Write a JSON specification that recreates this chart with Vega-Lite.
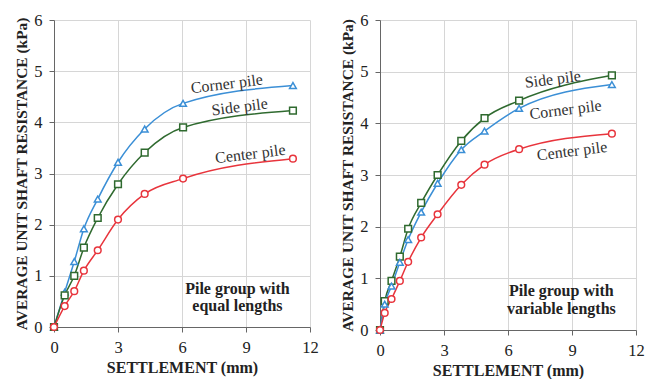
{
  "$schema": "https://vega.github.io/schema/vega-lite/v6.json",
  "background": "white",
  "padding": {"left": 14, "top": 12, "right": 8, "bottom": 2},
  "spacing": 21,
  "config": {
    "view": {"stroke": null},
    "axis": {
      "labelFont": "Liberation Serif",
      "labelFontSize": 16.5,
      "labelColor": "#222",
      "labelPadding": 7,
      "titleFont": "Liberation Serif",
      "titleFontSize": 16,
      "titleFontWeight": "bold",
      "titleColor": "#222",
      "gridColor": "#d6d6d6",
      "domainColor": "#666",
      "tickColor": "#666",
      "tickSize": 5,
      "labelFlush": false
    },
    "axisY": {"titleFontSize": 15.4, "titlePadding": 4},
    "axisX": {"titlePadding": 4, "labelPadding": 7}
  },
  "datasets": {
    "curves": [
      {"panel": "equal", "pile": "Corner", "s": 0, "r": 0},
      {"panel": "equal", "pile": "Corner", "s": 0.5, "r": 0.68},
      {"panel": "equal", "pile": "Corner", "s": 0.95, "r": 1.28},
      {"panel": "equal", "pile": "Corner", "s": 1.4, "r": 1.92},
      {"panel": "equal", "pile": "Corner", "s": 2.05, "r": 2.5},
      {"panel": "equal", "pile": "Corner", "s": 3.0, "r": 3.22},
      {"panel": "equal", "pile": "Corner", "s": 4.25, "r": 3.87},
      {"panel": "equal", "pile": "Corner", "s": 6.05, "r": 4.37},
      {"panel": "equal", "pile": "Corner", "s": 11.2, "r": 4.72},
      {"panel": "equal", "pile": "Side", "s": 0, "r": 0},
      {"panel": "equal", "pile": "Side", "s": 0.5, "r": 0.62},
      {"panel": "equal", "pile": "Side", "s": 0.95, "r": 1.0},
      {"panel": "equal", "pile": "Side", "s": 1.4, "r": 1.55},
      {"panel": "equal", "pile": "Side", "s": 2.05, "r": 2.13},
      {"panel": "equal", "pile": "Side", "s": 3.0, "r": 2.79},
      {"panel": "equal", "pile": "Side", "s": 4.25, "r": 3.41},
      {"panel": "equal", "pile": "Side", "s": 6.05, "r": 3.9},
      {"panel": "equal", "pile": "Side", "s": 11.2, "r": 4.23},
      {"panel": "equal", "pile": "Center", "s": 0, "r": 0},
      {"panel": "equal", "pile": "Center", "s": 0.5, "r": 0.41},
      {"panel": "equal", "pile": "Center", "s": 0.95, "r": 0.7},
      {"panel": "equal", "pile": "Center", "s": 1.4, "r": 1.1},
      {"panel": "equal", "pile": "Center", "s": 2.05, "r": 1.5},
      {"panel": "equal", "pile": "Center", "s": 3.0, "r": 2.1},
      {"panel": "equal", "pile": "Center", "s": 4.25, "r": 2.6},
      {"panel": "equal", "pile": "Center", "s": 6.05, "r": 2.9},
      {"panel": "equal", "pile": "Center", "s": 11.2, "r": 3.29},
      {"panel": "variable", "pile": "Side", "s": 0, "r": 0},
      {"panel": "variable", "pile": "Side", "s": 0.22, "r": 0.56},
      {"panel": "variable", "pile": "Side", "s": 0.54, "r": 0.95},
      {"panel": "variable", "pile": "Side", "s": 0.93, "r": 1.42},
      {"panel": "variable", "pile": "Side", "s": 1.32, "r": 1.96},
      {"panel": "variable", "pile": "Side", "s": 1.93, "r": 2.46},
      {"panel": "variable", "pile": "Side", "s": 2.7, "r": 3.0},
      {"panel": "variable", "pile": "Side", "s": 3.81, "r": 3.66},
      {"panel": "variable", "pile": "Side", "s": 4.9, "r": 4.1},
      {"panel": "variable", "pile": "Side", "s": 6.52, "r": 4.44},
      {"panel": "variable", "pile": "Side", "s": 10.87, "r": 4.93},
      {"panel": "variable", "pile": "Corner", "s": 0, "r": 0},
      {"panel": "variable", "pile": "Corner", "s": 0.22, "r": 0.5},
      {"panel": "variable", "pile": "Corner", "s": 0.54, "r": 0.85},
      {"panel": "variable", "pile": "Corner", "s": 0.93, "r": 1.31},
      {"panel": "variable", "pile": "Corner", "s": 1.32, "r": 1.75},
      {"panel": "variable", "pile": "Corner", "s": 1.93, "r": 2.28},
      {"panel": "variable", "pile": "Corner", "s": 2.7, "r": 2.84},
      {"panel": "variable", "pile": "Corner", "s": 3.81, "r": 3.49},
      {"panel": "variable", "pile": "Corner", "s": 4.9, "r": 3.85},
      {"panel": "variable", "pile": "Corner", "s": 6.52, "r": 4.29},
      {"panel": "variable", "pile": "Corner", "s": 10.87, "r": 4.75},
      {"panel": "variable", "pile": "Center", "s": 0, "r": 0},
      {"panel": "variable", "pile": "Center", "s": 0.22, "r": 0.33},
      {"panel": "variable", "pile": "Center", "s": 0.54, "r": 0.6},
      {"panel": "variable", "pile": "Center", "s": 0.93, "r": 0.95},
      {"panel": "variable", "pile": "Center", "s": 1.32, "r": 1.32},
      {"panel": "variable", "pile": "Center", "s": 1.93, "r": 1.79},
      {"panel": "variable", "pile": "Center", "s": 2.7, "r": 2.24},
      {"panel": "variable", "pile": "Center", "s": 3.81, "r": 2.81},
      {"panel": "variable", "pile": "Center", "s": 4.9, "r": 3.2},
      {"panel": "variable", "pile": "Center", "s": 6.52, "r": 3.5},
      {"panel": "variable", "pile": "Center", "s": 10.87, "r": 3.8}
    ],
    "curveLabels": [
      {"panel": "equal", "label": "Corner pile", "s": 8.1, "r": 4.75},
      {"panel": "equal", "label": "Side pile", "s": 8.7, "r": 4.3},
      {"panel": "equal", "label": "Center pile", "s": 9.2, "r": 3.38},
      {"panel": "variable", "label": "Side pile", "s": 8.1, "r": 4.85},
      {"panel": "variable", "label": "Corner pile", "s": 8.7, "r": 4.26},
      {"panel": "variable", "label": "Center pile", "s": 9.0, "r": 3.46}
    ],
    "notes": [
      {"panel": "equal", "label": "Pile group with", "s": 8.6, "r": 0.74},
      {"panel": "equal", "label": "equal lengths", "s": 8.6, "r": 0.41},
      {"panel": "variable", "label": "Pile group with", "s": 8.5, "r": 0.75},
      {"panel": "variable", "label": "variable lengths", "s": 8.5, "r": 0.4}
    ]
  },
  "hconcat": [
    {
      "width": 256,
      "height": 307,
      "encoding": {
        "x": {"field": "s", "type": "quantitative", "scale": {"domain": [0, 12], "nice": false}, "axis": {"values": [0, 3, 6, 9, 12], "title": "SETTLEMENT (mm)"}},
        "y": {"field": "r", "type": "quantitative", "scale": {"domain": [0, 6], "nice": false}, "axis": {"values": [0, 1, 2, 3, 4, 5, 6], "title": "AVERAGE UNIT SHAFT RESISTANCE (kPa)"}}
      },
      "layer": [
        {
          "data": {"name": "curves"},
          "transform": [{"filter": "datum.panel === 'equal'"}],
          "mark": {"type": "line", "interpolate": "monotone", "strokeWidth": 1.5},
          "encoding": {
            "detail": {"field": "pile"},
            "color": {"field": "pile", "type": "nominal", "scale": {"domain": ["Corner", "Side", "Center"], "range": ["#3b8fd6", "#2f6a2f", "#e8343c"]}, "legend": null}
          }
        },
        {
          "data": {"name": "curves"},
          "transform": [{"filter": "datum.panel === 'equal'"}],
          "mark": {"type": "point", "filled": false, "fill": "white", "fillOpacity": 1, "strokeWidth": 1.5, "size": 45, "opacity": 1},
          "encoding": {
            "color": {"field": "pile", "type": "nominal", "scale": {"domain": ["Corner", "Side", "Center"], "range": ["#3b8fd6", "#2f6a2f", "#e8343c"]}, "legend": null},
            "shape": {"field": "pile", "type": "nominal", "scale": {"domain": ["Corner", "Side", "Center"], "range": ["triangle-up", "square", "circle"]}, "legend": null}
          }
        },
        {
          "data": {"name": "curveLabels"},
          "transform": [{"filter": "datum.panel === 'equal'"}],
          "mark": {"type": "text", "font": "Liberation Serif", "fontSize": 16, "angle": 353, "color": "#333"},
          "encoding": {"text": {"field": "label"}}
        },
        {
          "data": {"name": "notes"},
          "transform": [{"filter": "datum.panel === 'equal'"}],
          "mark": {"type": "text", "font": "Liberation Serif", "fontSize": 16, "fontWeight": "bold", "color": "#222"},
          "encoding": {"text": {"field": "label"}}
        }
      ]
    },
    {
      "width": 256,
      "height": 310,
      "encoding": {
        "x": {"field": "s", "type": "quantitative", "scale": {"domain": [0, 12], "nice": false}, "axis": {"values": [0, 3, 6, 9, 12], "title": "SETTLEMENT (mm)"}},
        "y": {"field": "r", "type": "quantitative", "scale": {"domain": [0, 6], "nice": false}, "axis": {"values": [0, 1, 2, 3, 4, 5, 6], "title": "AVERAGE UNIT SHAFT RESISTANCE (kPa)"}}
      },
      "layer": [
        {
          "data": {"name": "curves"},
          "transform": [{"filter": "datum.panel === 'variable'"}],
          "mark": {"type": "line", "interpolate": "monotone", "strokeWidth": 1.5},
          "encoding": {
            "detail": {"field": "pile"},
            "color": {"field": "pile", "type": "nominal", "scale": {"domain": ["Corner", "Side", "Center"], "range": ["#3b8fd6", "#2f6a2f", "#e8343c"]}, "legend": null}
          }
        },
        {
          "data": {"name": "curves"},
          "transform": [{"filter": "datum.panel === 'variable'"}],
          "mark": {"type": "point", "filled": false, "fill": "white", "fillOpacity": 1, "strokeWidth": 1.5, "size": 45, "opacity": 1},
          "encoding": {
            "color": {"field": "pile", "type": "nominal", "scale": {"domain": ["Corner", "Side", "Center"], "range": ["#3b8fd6", "#2f6a2f", "#e8343c"]}, "legend": null},
            "shape": {"field": "pile", "type": "nominal", "scale": {"domain": ["Corner", "Side", "Center"], "range": ["triangle-up", "square", "circle"]}, "legend": null}
          }
        },
        {
          "data": {"name": "curveLabels"},
          "transform": [{"filter": "datum.panel === 'variable'"}],
          "mark": {"type": "text", "font": "Liberation Serif", "fontSize": 16, "angle": 353, "color": "#333"},
          "encoding": {"text": {"field": "label"}}
        },
        {
          "data": {"name": "notes"},
          "transform": [{"filter": "datum.panel === 'variable'"}],
          "mark": {"type": "text", "font": "Liberation Serif", "fontSize": 16, "fontWeight": "bold", "color": "#222"},
          "encoding": {"text": {"field": "label"}}
        }
      ]
    }
  ]
}
